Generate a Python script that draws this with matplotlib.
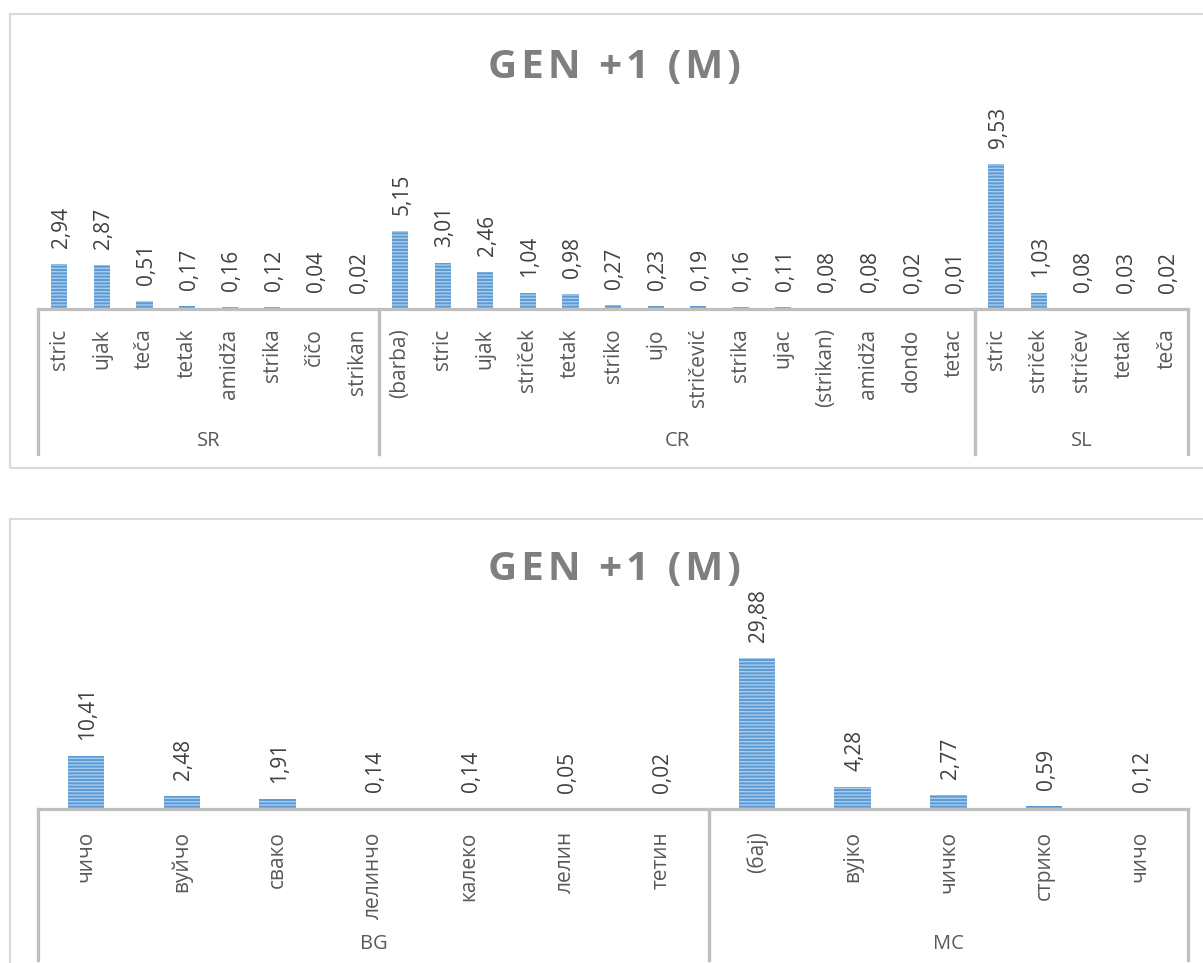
import matplotlib
matplotlib.use('Agg')
import matplotlib.pyplot as plt
from matplotlib.patches import Rectangle
from matplotlib.lines import Line2D

plt.rcParams['font.family'] = ['Open Sans', 'DejaVu Sans']
plt.rcParams['hatch.linewidth'] = 1.0

# top chart data
top_groups = ['SR', 'CR', 'SL']
sr_words = ['stric', 'ujak', 'teča', 'tetak', 'amidža', 'strika', 'čičo', 'strikan']
sr_vals = [2.94, 2.87, 0.51, 0.17, 0.16, 0.12, 0.04, 0.02]
cr_words = ['(barba)', 'stric', 'ujak', 'striček', 'tetak', 'striko', 'ujo',
            'stričević', 'strika', 'ujac', '(strikan)', 'amidža', 'dondo', 'tetac']
cr_vals = [5.15, 3.01, 2.46, 1.04, 0.98, 0.27, 0.23, 0.19, 0.16, 0.11, 0.08, 0.08, 0.02, 0.01]
sl_words = ['stric', 'striček', 'stričev', 'tetak', 'teča']
sl_vals = [9.53, 1.03, 0.08, 0.03, 0.02]

# bottom chart data
bot_groups = ['BG', 'MC']
bg_words = ['чичо', 'вуйчо', 'свако', 'лелинчо', 'калеко', 'лелин', 'тетин']
bg_vals = [10.41, 2.48, 1.91, 0.14, 0.14, 0.05, 0.02]
mc_words = ['(бај)', 'вујко', 'чичко', 'стрико', 'чичо']
mc_vals = [29.88, 4.28, 2.77, 0.59, 0.12]

TITLE = 'GEN +1 (M)'

W, H = 1203, 963
BAR = '#5B9BD5'
STRIPE = '#A9CCEC'
LINE = '#BFBFBF'
TXT = '#595959'
VAL = '#404040'

fig = plt.figure(figsize=(W / 100, H / 100), dpi=100)


def frame(x0, y0, y1):
	# light chart-area border (right / bottom run off the picture)
	fig.add_artist(Rectangle((x0 / W, 1 - y1 / H), (W + 20 - x0) / W, (y1 - y0) / H,
	                         transform=fig.transFigure, fill=False,
	                         edgecolor='#D9D9D9', linewidth=1.5))


def spaced(s):
	# rough letter spacing with hair spaces
	return '\u200a'.join(s)


def chart(groups, words, vals, base, top, ymax, brack_bot, lab_pad, grp_y, title_y):
	left, right = 38, 1188
	ax = fig.add_axes([left / W, 1 - base / H, (right - left) / W, (base - top) / H])
	allw = sum(words, [])
	allv = sum(vals, [])
	n = len(allw)
	xs = list(range(n))
	ax.bar(xs, allv, width=0.38, color=BAR, edgecolor=STRIPE, linewidth=0, hatch='-----')
	ax.set_xlim(-0.5, n - 0.5)
	ax.set_ylim(0, ymax)
	for s in ['top', 'right', 'left']:
		ax.spines[s].set_visible(False)
	ax.spines['bottom'].set_color(LINE)
	ax.spines['bottom'].set_linewidth(2.3)
	ax.set_yticks([])
	ax.set_xticks(xs, allw, rotation=90, fontsize=15, color=TXT)
	ax.tick_params(axis='x', length=0, pad=lab_pad)
	for x, v in zip(xs, allv):
		ax.annotate(('%.2f' % v).replace('.', ','), (x, v), xytext=(2, 16),
		            textcoords='offset pixels', rotation=90, ha='center', va='bottom',
		            fontsize=15, color=VAL)
	# multi-level category brackets
	axh = base - top
	tr = ax.get_xaxis_transform()
	yb = -(brack_bot - base) / axh
	start = -0.5
	for g, w in zip(groups, words):
		end = start + len(w)
		for xb in (start, end):
			ax.add_line(Line2D([xb, xb], [0, yb], transform=tr, color=LINE,
			                   linewidth=2.3, clip_on=False))
		ax.text((start + end) / 2, -(grp_y - base) / axh, g, transform=tr,
		        ha='center', va='center', fontsize=14.5, color=TXT)
		start = end
	fig.text(614 / W, 1 - title_y / H, spaced(TITLE), ha='center', va='center',
	         fontsize=29, fontweight='bold', color='#7F7F7F')
	return ax


frame(10, 14, 468)
chart(top_groups, [sr_words, cr_words, sl_words], [sr_vals, cr_vals, sl_vals],
      base=309, top=100, ymax=209 / 15.2, brack_bot=454, lab_pad=14, grp_y=441, title_y=68)

frame(10, 519, 1000)
chart(bot_groups, [bg_words, mc_words], [bg_vals, mc_vals],
      base=809, top=620, ymax=189 / 5.05, brack_bot=960, lab_pad=16, grp_y=944, title_y=570)

fig.savefig('out.png', dpi=100, facecolor='white')
